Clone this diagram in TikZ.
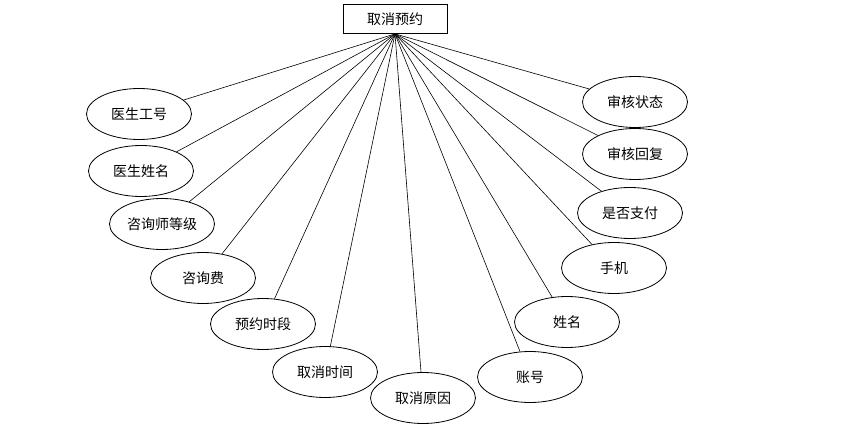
\documentclass[tikz,border=0pt]{standalone}
\usepackage{fontspec}
\newfontfamily\cjk{Noto Sans CJK SC}
\usetikzlibrary{shapes.geometric}

\begin{document}
\begin{tikzpicture}[x=1pt, y=-1pt, every node/.style={font=\cjk\fontsize{14}{16}\selectfont},
    entity/.style={draw, thick, rectangle, minimum width=104pt, minimum height=29pt, inner sep=0pt},
    attr/.style={draw, thick, ellipse, minimum width=105pt, minimum height=51pt, inner sep=0pt}]
    \useasboundingbox (0,0) rectangle (846,435);
    \node[entity] (ent)     at (395,19)  {取消预约};
    \node[attr]   (docNo)   at (139,114) {医生工号};
    \node[attr]   (docName) at (141,171) {医生姓名};
    \node[attr]   (level)   at (162,224) {咨询师等级};
    \node[attr]   (fee)     at (203,278) {咨询费};
    \node[attr]   (slot)    at (263,324) {预约时段};
    \node[attr]   (cTime)   at (325,372) {取消时间};
    \node[attr]   (reason)  at (423,398) {取消原因};
    \node[attr]   (account) at (530,377) {账号};
    \node[attr]   (uName)   at (567,322) {姓名};
    \node[attr]   (phone)   at (614,268) {手机};
    \node[attr]   (paid)    at (630,213) {是否支付};
    \node[attr]   (reply)   at (635,154) {审核回复};
    \node[attr]   (status)  at (635,102) {审核状态};

    \foreach \a in {docNo, docName, level, fee, slot, cTime, reason, account, uName, phone, paid, reply, status}
        \draw[semithick] (ent.south) -- (\a);
\end{tikzpicture}
\end{document}
